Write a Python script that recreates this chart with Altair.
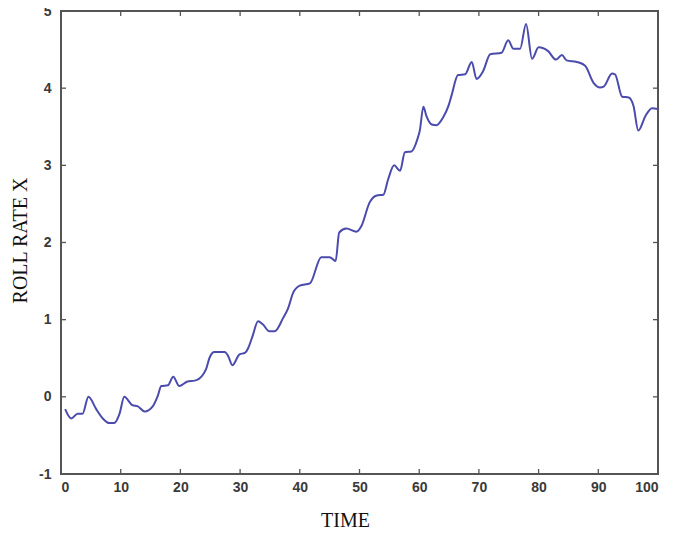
import altair as alt
import pandas as pd

time = [0.7, 1.7, 2.8, 3.6, 4.6, 5.9, 7.0, 8.1, 8.9, 9.8, 10.6, 12.0, 12.8, 14.0, 15.4, 16.2, 16.8,
        17.9, 18.8, 19.8, 21.2, 22.4, 23.8, 24.3, 24.9, 25.7, 27.4, 28.0, 28.7, 29.9, 30.8, 31.4,
        32.1, 33.0, 33.8, 34.9, 35.8, 37.2, 38.0, 38.9, 40.0, 41.7, 43.6, 45.0, 46.0, 46.6, 47.8,
        49.5, 50.3, 51.7, 52.9, 54.0, 54.8, 55.8, 56.8, 57.6, 58.7, 59.7, 60.1, 60.7, 61.2, 62.1,
        62.9, 64.0, 64.9, 65.4, 66.5, 67.7, 68.8, 69.6, 70.7, 71.9, 73.8, 74.9, 75.8, 76.9, 77.9,
        78.9, 80.0, 81.6, 82.9, 83.9, 84.7, 86.4, 87.8, 89.2, 90.3, 90.9, 92.3, 92.8, 94.0, 95.1,
        95.9, 96.7, 97.9, 99.0, 100.0]
roll = [-0.16, -0.28, -0.22, -0.22, 0.00, -0.16, -0.28, -0.34, -0.34, -0.22, 0.00, -0.11, -0.12,
        -0.19, -0.12, 0.01, 0.14, 0.15, 0.26, 0.14, 0.20, 0.21, 0.29, 0.36, 0.51, 0.58, 0.58, 0.53,
        0.41, 0.55, 0.57, 0.64, 0.79, 0.98, 0.94, 0.85, 0.85, 1.02, 1.14, 1.35, 1.44, 1.47, 1.81,
        1.81, 1.76, 2.13, 2.18, 2.14, 2.21, 2.52, 2.61, 2.62, 2.82, 3.00, 2.93, 3.17, 3.18, 3.34,
        3.45, 3.76, 3.64, 3.53, 3.52, 3.62, 3.77, 3.90, 4.17, 4.18, 4.34, 4.12, 4.22, 4.44, 4.46,
        4.62, 4.51, 4.51, 4.83, 4.38, 4.53, 4.48, 4.37, 4.43, 4.36, 4.34, 4.29, 4.07, 4.01, 4.02,
        4.19, 4.18, 3.89, 3.88, 3.77, 3.45, 3.64, 3.74, 3.73]

x_ticks = [0, 10, 20, 30, 40, 50, 60, 70, 80, 90, 100]
y_ticks = [-1, 0, 1, 2, 3, 4, 5]

W, H = 597, 463
frame = "#555555"

df = pd.DataFrame({"t": time, "r": roll})
xt = pd.DataFrame({"t": x_ticks})
yt = pd.DataFrame({"r": y_ticks})

xs = alt.Scale(domain=[0, 100], nice=False)
ys = alt.Scale(domain=[-1, 5], nice=False)

line = alt.Chart(df).mark_line(color="#4b4bad", strokeWidth=2, interpolate="monotone").encode(
    x=alt.X("t:Q", scale=xs,
            axis=alt.Axis(values=x_ticks, labelExpr="datum.value + ''", title="TIME", tickSize=0,
                          domain=False, grid=False, labelPadding=6, titleX=284, titleY=46,
                          titleBaseline="middle")),
    y=alt.Y("r:Q", scale=ys,
            axis=alt.Axis(values=y_ticks, labelExpr="datum.value + ''", title="ROLL RATE X", tickSize=0,
                          domain=False, grid=False, labelPadding=10, titleX=-41, titleY=229,
                          titleBaseline="middle", titleAlign="center", titleAngle=270)),
)

tick_style = dict(color=frame, strokeWidth=1.3)
bx = alt.Chart(xt).mark_rule(**tick_style).encode(x=alt.X("t:Q", scale=xs), y=alt.value(H), y2=alt.value(H - 5))
tx = alt.Chart(xt).mark_rule(**tick_style).encode(x=alt.X("t:Q", scale=xs), y=alt.value(0), y2=alt.value(5))
ly = alt.Chart(yt).mark_rule(**tick_style).encode(y=alt.Y("r:Q", scale=ys), x=alt.value(0), x2=alt.value(5))
ry = alt.Chart(yt).mark_rule(**tick_style).encode(y=alt.Y("r:Q", scale=ys), x=alt.value(W), x2=alt.value(W - 5))

chart = alt.layer(bx, tx, ly, ry, line).properties(
    width=W, height=H,
    autosize=alt.AutoSizeParams(type="none"),
    padding={"left": 53, "top": 3, "right": 20, "bottom": 60},
).configure_view(
    stroke=frame, strokeWidth=2
).configure_axis(
    labelFont="Liberation Sans", labelFontSize=14, labelFontWeight="bold", labelColor="#3a3a3a",
    titleFont="Liberation Serif", titleFontSize=20, titleFontWeight="normal", titleColor="#111111",
)

chart.save("out.html", embed_options={"renderer": "svg", "actions": False})
